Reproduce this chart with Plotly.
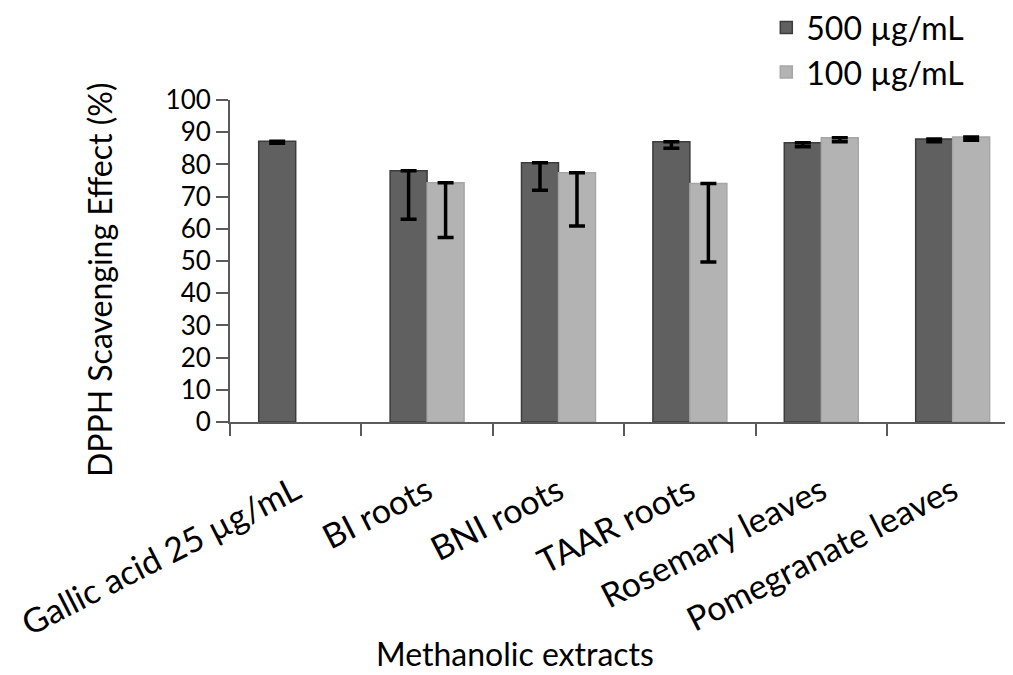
import plotly.graph_objects as go

categories = ["Gallic acid 25 µg/mL", "BI roots", "BNI roots", "TAAR roots",
              "Rosemary leaves", "Pomegranate leaves"]
vals_500 = [87.2, 78.0, 80.5, 87.0, 86.7, 87.9]
err_500 = [0.6, 15.0, 8.5, 2.0, 1.2, 0.9]
vals_100 = [None, 74.3, 77.4, 74.1, 88.3, 88.5]
err_100 = [0, 17.0, 16.5, 24.4, 1.3, 1.0]
series_names = ["500 µg/mL", "100 µg/mL"]
y_ticks = [0, 10, 20, 30, 40, 50, 60, 70, 80, 90, 100]
x_title = "Methanolic extracts"
y_title = "DPPH Scavenging Effect (%)"

FONT = "Lato"
fig = go.Figure()
fig.add_trace(go.Bar(
    x=categories, y=vals_500, name=series_names[0],
    marker=dict(color="#606060", line=dict(color="#3c3c3c", width=1.5)),
    error_y=dict(type="data", symmetric=False, array=[0]*6, arrayminus=err_500,
                 color="black", thickness=3.5, width=8),
))
fig.add_trace(go.Bar(
    x=categories, y=vals_100, name=series_names[1],
    marker=dict(color="#b3b3b3", line=dict(color="#a6a6a6", width=1.5)),
    error_y=dict(type="data", symmetric=False, array=[0]*6, arrayminus=err_100,
                 color="black", thickness=3.5, width=8),
))

fig.update_layout(
    width=1013, height=675,
    margin=dict(l=222, r=0, t=92, b=261, autoexpand=False),
    paper_bgcolor="white", plot_bgcolor="white",
    barmode="group", bargap=0.437, bargroupgap=0,
    font=dict(family=FONT, size=28, color="black"),
    showlegend=True,
    legend=dict(x=0.678, y=1.31, xanchor="left", yanchor="top",
                font=dict(size=32), bgcolor="rgba(0,0,0,0)",
                tracegroupgap=0),
    annotations=[
        dict(text=x_title, xref="paper", yref="paper", x=0.360, y=-0.72,
             xanchor="center", yanchor="middle", showarrow=False,
             font=dict(size=32)),
        dict(text=y_title, xref="paper", yref="paper", x=-0.1643, y=0.441,
             xanchor="center", yanchor="middle", showarrow=False, textangle=-90,
             font=dict(size=32)),
    ],
)
fig.update_xaxes(
    type="category", range=[-0.5, 5.52],
    showline=True, linecolor="#5a5a5a", linewidth=2,
    ticks="outside", tickson="boundaries", ticklen=12, tickwidth=2, tickcolor="#5a5a5a",
    tickangle=-27, tickfont=dict(size=34), ticklabelstandoff=34,
    showgrid=False,
)
fig.update_yaxes(
    range=[0, 100], tickvals=y_ticks,
    showline=True, linecolor="#5a5a5a", linewidth=2,
    ticks="outside", ticklen=12, tickwidth=2, tickcolor="#5a5a5a",
    tickfont=dict(size=26),
    showgrid=False, zeroline=False,
)
fig.write_html("out.html")
